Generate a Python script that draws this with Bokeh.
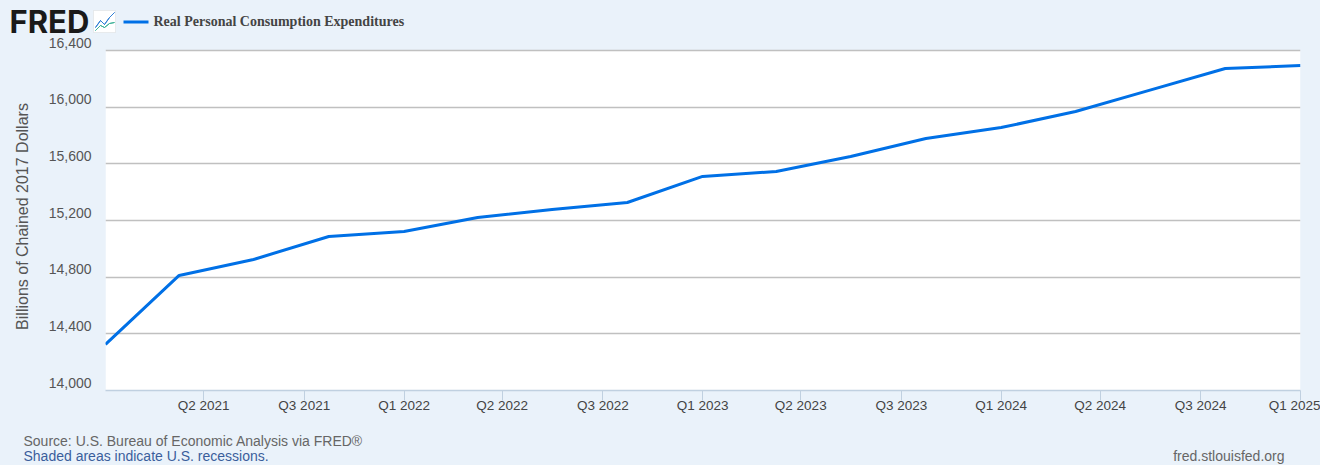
import pandas as pd
from bokeh.plotting import figure
from bokeh.embed import file_html
from bokeh.resources import INLINE
from bokeh.layouts import column
from bokeh.models import (Label, BoxAnnotation, PolyAnnotation, FixedTicker, Grid, LinearAxis,
                          Range1d, NumeralTickFormatter)

# Data
quarters = ["2021-01-01", "2021-04-01", "2021-07-01", "2021-10-01",
            "2022-01-01", "2022-04-01", "2022-07-01", "2022-10-01",
            "2023-01-01", "2023-04-01", "2023-07-01", "2023-10-01",
            "2024-01-01", "2024-04-01", "2024-07-01", "2024-10-01", "2025-01-01"]
pce = [14325, 14812, 14925, 15087, 15122, 15221, 15278, 15327, 15511,
       15546, 15652, 15779, 15856, 15969, 16120, 16273, 16294]
tick_dates = ["2021-05-01", "2021-09-01", "2022-01-01", "2022-05-01", "2022-09-01", "2023-01-01",
              "2023-05-01", "2023-09-01", "2024-01-01", "2024-05-01", "2024-09-01", "2025-01-01"]
tick_labels = ["Q2 2021", "Q3 2021", "Q1 2022", "Q2 2022", "Q3 2022", "Q1 2023",
               "Q2 2023", "Q3 2023", "Q1 2024", "Q2 2024", "Q3 2024", "Q1 2025"]
y_ticks = [14000, 14400, 14800, 15200, 15600, 16000, 16400]
series_name = "Real Personal Consumption Expenditures"

BG = "#EAF2FA"
W, H = 1320, 465
MAIN_TOP, FOOT_H = 36, 40
HEAD_H = 46                        # the header strip runs on beneath the transparent main figure
FL, FT, FR, FB = 105, 42, 1300, 390  # main frame edges in page pixels
YMIN, YMAX = 14000, 16400
LIFT = 8 * (YMAX - YMIN) / 340     # tick labels sit above their gridline, as in the reference

start = pd.Timestamp(quarters[0])


def days(d):
    return float((pd.Timestamp(d) - start).days)


xs_data = [days(d) for d in quarters]
xs_tick = [days(d) for d in tick_dates]
XMAX = xs_data[-1]

p = figure(width=W, height=H - MAIN_TOP - FOOT_H, output_backend="svg", toolbar_location=None,
           x_range=(0, XMAX), y_range=(YMIN, YMAX + LIFT), y_axis_location=None,
           min_border_left=FL, min_border_right=W - FR,
           min_border_top=FT - MAIN_TOP, min_border_bottom=H - FOOT_H - FB,
           background_fill_alpha=0, border_fill_alpha=0, outline_line_color=None,
           frame_align=False, margin=(MAIN_TOP - HEAD_H, 0, 0, 0))
p.grid.visible = False

p.add_layout(BoxAnnotation(left=0, right=XMAX, bottom=YMIN, top=YMAX, fill_color="white",
                           fill_alpha=1, line_color=None, level="image"))
p.add_layout(Grid(dimension=1, ticker=FixedTicker(ticks=y_ticks[1:]),
                  grid_line_color="#C0C0C0", grid_line_width=1.5))
p.add_layout(Grid(dimension=0, ticker=FixedTicker(ticks=[0]), bounds=(YMIN, YMAX),
                  grid_line_color="#808080", grid_line_width=1.5))

p.line(xs_data, pce, line_color="#0070E6", line_width=3, line_join="round")

xa = p.xaxis[0]
xa.ticker = FixedTicker(ticks=xs_tick)
xa.major_label_overrides = dict(zip(xs_tick, tick_labels))
xa.axis_line_color = "#C0D0E0"
xa.axis_line_width = 1.5
xa.major_tick_line_color = "#C0D0E0"
xa.major_tick_in = 0
xa.major_tick_out = 10
xa.minor_tick_line_color = None
xa.major_label_text_font = "Liberation Sans"
xa.major_label_text_font_size = "13.5px"
xa.major_label_text_color = "#444444"
xa.major_label_standoff = -3

p.extra_y_ranges = {"labels": Range1d(YMIN - LIFT, YMAX)}
ya = LinearAxis(y_range_name="labels", ticker=FixedTicker(ticks=y_ticks),
                formatter=NumeralTickFormatter(format="0,0"))
ya.axis_line_color = None
ya.major_tick_line_color = None
ya.minor_tick_line_color = None
ya.major_label_text_font = "Liberation Sans"
ya.major_label_text_font_size = "14px"
ya.major_label_text_color = "#555555"
ya.major_label_standoff = 8
ya.axis_label = "Billions of Chained 2017 Dollars"
ya.axis_label_text_font = "Liberation Sans"
ya.axis_label_text_font_style = "normal"
ya.axis_label_text_font_size = "16px"
ya.axis_label_text_color = "#555555"
ya.axis_label_standoff = 15
p.add_layout(ya, "left")


def strip(height):
    f = figure(width=W, height=height, output_backend="svg", toolbar_location=None,
               x_range=(0, W), y_range=(0, height), x_axis_type=None, y_axis_type=None,
               min_border=0, background_fill_color=BG, border_fill_color=BG,
               outline_line_color=None, frame_align=False)
    f.grid.visible = False
    return f


def label(f, top, text, x, y, size, color, font="Liberation Sans", style="normal", align="left",
          baseline="alphabetic"):
    f.add_layout(Label(x=x, y=top - y, x_units="screen", y_units="screen", text=text,
                       text_font=font, text_font_size=size, text_color=color,
                       text_font_style=style, text_align=align, text_baseline=baseline))


head = strip(HEAD_H)
label(head, HEAD_H, "FRED", 9, 21, "31px", "#1A1A1A", font="Inter", style="bold", baseline="middle")
label(head, HEAD_H, series_name, 153, 21, "14px", "#444444", font="Liberation Serif", style="bold")

# legend key
head.add_layout(BoxAnnotation(left=123, right=148, top=HEAD_H - 20, bottom=HEAD_H - 23,
                              left_units="screen", right_units="screen", top_units="screen",
                              bottom_units="screen", fill_color="#0070E6", fill_alpha=1,
                              line_color=None))
# logo icon
head.add_layout(BoxAnnotation(left=93, right=115, top=HEAD_H - 10, bottom=HEAD_H - 32,
                              left_units="screen", right_units="screen", top_units="screen",
                              bottom_units="screen", fill_color="white", fill_alpha=1,
                              line_color="#C8C8C8"))


def icon_path(xs, ys, color):
    ax = xs + xs[::-1]
    ay = [HEAD_H - y for y in ys + ys[::-1]]
    head.add_layout(PolyAnnotation(xs=ax, ys=ay, xs_units="screen", ys_units="screen",
                                   fill_alpha=0, line_color=color, line_width=1, line_alpha=1))


icon_path([95, 100, 104, 109, 114], [27, 20, 24, 17, 12], "#2F7FD6")
icon_path([95, 100, 104, 109, 114], [30, 25, 27, 23, 22], "#3FB39A")

foot = strip(FOOT_H)
FOOT_BOTTOM = H
label(foot, FOOT_BOTTOM, "Source: U.S. Bureau of Economic Analysis via FRED®", 23, 440, "14px", "#666666")
label(foot, FOOT_BOTTOM, "Shaded areas indicate U.S. recessions.", 23, 455, "14px", "#3A5E9C")
label(foot, FOOT_BOTTOM, "fred.stlouisfed.org", 1284, 455, "14px", "#666666", align="right")

page = column(head, p, foot, spacing=0)
html = file_html(page, INLINE)
html = html.replace("</head>", f"<style>html,body{{background:{BG};}}</style></head>", 1)
open("out.html", "w").write(html)
